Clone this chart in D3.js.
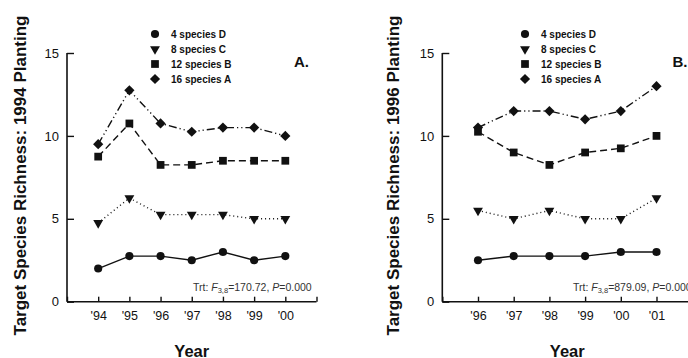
<!DOCTYPE html>
<html>
<head>
<meta charset="utf-8">
<script src="https://cdn.jsdelivr.net/npm/d3@7"></script>
<style>
  body { margin: 0; background: #fff; }
  svg { display: block; font-family: "Liberation Sans", Arial, sans-serif; }
</style>
</head>
<body>
<script>
// legend / series names
let seriesNames = ['4 species D', '8 species C', '12 species B', '16 species A'];

// panel A: 1994 planting
let yearsA = [1994, 1995, 1996, 1997, 1998, 1999, 2000];
let yearLabelsA = ["'94", "'95", "'96", "'97", "'98", "'99", "'00"];
let dA = [2.0, 2.75, 2.75, 2.5, 3.0, 2.5, 2.75];
let cA = [4.75, 6.25, 5.25, 5.25, 5.25, 5.0, 5.0];
let bA = [8.75, 10.75, 8.25, 8.25, 8.5, 8.5, 8.5];
let aA = [9.5, 12.75, 10.75, 10.25, 10.5, 10.5, 10.0];

// panel B: 1996 planting
let yearsB = [1996, 1997, 1998, 1999, 2000, 2001];
let yearLabelsB = ["'96", "'97", "'98", "'99", "'00", "'01"];
let dB = [2.5, 2.75, 2.75, 2.75, 3.0, 3.0];
let cB = [5.5, 5.0, 5.5, 5.0, 5.0, 6.25];
let bB = [10.25, 9.0, 8.25, 9.0, 9.25, 10.0];
let aB = [10.5, 11.5, 11.5, 11.0, 11.5, 13.0];

let yTicks = [0, 5, 10, 15];

let width = 688;
let height = 358;

let svg = d3.select('body')
    .append('svg')
    .attr('width', width)
    .attr('height', height);

let yScale = d3.scaleLinear()
    .domain([0, 15])
    .range([301.7, 53]);

// marker shapes, rotation and line dashes per series (D, C, B, A)
let symbols = [d3.symbolCircle, d3.symbolTriangle, d3.symbolSquare, d3.symbolSquare];
let symSizes = [52, 42, 60, 52];
let symRot = [0, 180, 0, 45];
let dashes = [null, '1,3', '7,4', '8,3,1.2,3,1.2,3'];

function drawPanel(opt) {
    let g = svg.append('g');

    let xScale = d3.scaleLinear()
        .domain(opt.domain)
        .range(opt.range);

    let allYears = d3.range(opt.domain[0], opt.domain[1] + 1);
    let labelMap = new Map(opt.years.map((y, i) => [y, opt.labels[i]]));

    let xAxis = d3.axisBottom(xScale)
        .tickValues(allYears)
        .tickSize(-5)
        .tickPadding(9)
        .tickFormat(d => labelMap.get(d) || '');

    let yAxis = d3.axisLeft(yScale)
        .tickValues(yTicks)
        .tickSize(-7)
        .tickPadding(8)
        .tickFormat(d3.format('d'));

    let gx = g.append('g')
        .attr('transform', 'translate(0,' + yScale(0) + ')')
        .call(xAxis);
    gx.select('.domain').attr('d', 'M' + opt.range[0] + ',0H' + opt.range[1]);

    let gy = g.append('g')
        .attr('transform', 'translate(' + opt.range[0] + ',0)')
        .call(yAxis);
    gy.select('.domain').attr('d', 'M0,' + yScale(15) + 'V' + yScale(0));

    [gx, gy].forEach(a => {
        a.selectAll('.domain').attr('stroke', '#111').attr('stroke-width', 1.6);
        a.selectAll('.tick line').attr('stroke', '#111').attr('stroke-width', 1.4);
        a.selectAll('text').attr('fill', '#111').attr('font-size', 13);
    });
    gx.selectAll('text').attr('font-size', 12.5);

    // series lines + markers
    opt.series.forEach((vals, si) => {
        let pts = vals.map((v, i) => [opt.years[i], v]);
        let line = d3.line()
            .x(d => xScale(d[0]))
            .y(d => yScale(d[1]));
        g.append('path')
            .attr('d', line(pts))
            .attr('fill', 'none')
            .attr('stroke', '#111')
            .attr('stroke-width', 1.4)
            .attr('stroke-dasharray', dashes[si]);
        g.selectAll('.m' + si)
            .data(pts)
            .enter()
            .append('path')
            .attr('d', d3.symbol().type(symbols[si]).size(symSizes[si]))
            .attr('transform', d => 'translate(' + xScale(d[0]) + ',' + yScale(d[1]) + ') rotate(' + symRot[si] + ')')
            .attr('fill', '#111');
    });

    // legend
    seriesNames.forEach((name, i) => {
        let ly = 34 + i * 15;
        g.append('path')
            .attr('d', d3.symbol().type(symbols[i]).size(symSizes[i]))
            .attr('transform', 'translate(' + opt.legendX + ',' + ly + ') rotate(' + symRot[i] + ')')
            .attr('fill', '#111');
        g.append('text')
            .attr('x', opt.legendX + 16)
            .attr('y', ly + 3.5)
            .attr('font-size', 10)
            .attr('font-weight', 'bold')
            .attr('fill', '#111')
            .text(name);
    });

    g.append('text')
        .attr('x', opt.letterX)
        .attr('y', 67)
        .attr('font-size', 15)
        .attr('font-weight', 'bold')
        .attr('text-anchor', 'middle')
        .attr('fill', '#111')
        .text(opt.letter);

    // stats note
    let note = g.append('text')
        .attr('x', opt.noteX)
        .attr('y', 290.5)
        .attr('font-size', 10.5)
        .attr('fill', '#333');
    note.append('tspan').text('Trt: ');
    note.append('tspan').attr('font-style', 'italic').text('F');
    note.append('tspan').attr('font-size', 7.5).attr('dy', 2.5).text('3,8');
    note.append('tspan').attr('dy', -2.5).text('=' + opt.fval + ', ');
    note.append('tspan').attr('font-style', 'italic').text('P');
    note.append('tspan').text('=0.000');

    // axis titles
    g.append('text')
        .attr('transform', 'translate(' + opt.titleX + ',175.5) rotate(-90)')
        .attr('text-anchor', 'middle')
        .attr('font-size', 17)
        .attr('font-weight', 'bold')
        .attr('fill', '#111')
        .text('Target Species Richness: ' + opt.planting + ' Planting');

    g.append('text')
        .attr('x', (opt.range[0] + opt.range[1]) / 2)
        .attr('y', 356.5)
        .attr('text-anchor', 'middle')
        .attr('font-size', 16.5)
        .attr('font-weight', 'bold')
        .attr('fill', '#111')
        .text('Year');
}

drawPanel({
    domain: [1993, 2001], range: [67, 316.5],
    years: yearsA, labels: yearLabelsA,
    series: [dA, cA, bA, aA],
    legendX: 155, letterX: 301.5, letter: 'A.',
    noteX: 193, fval: '170.72',
    titleX: 25.5, planting: '1994'
});

drawPanel({
    domain: [1995, 2002], range: [442.3, 692.2],
    years: yearsB, labels: yearLabelsB,
    series: [dB, cB, bB, aB],
    legendX: 525, letterX: 680, letter: 'B.',
    noteX: 573, fval: '879.09',
    titleX: 398.5, planting: '1996'
});
</script>
</body>
</html>
